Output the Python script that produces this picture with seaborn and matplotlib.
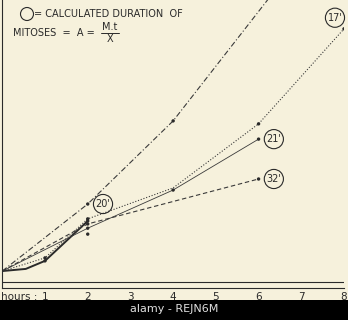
import matplotlib
matplotlib.use("Agg")
import matplotlib.pyplot as plt
from matplotlib.patches import Ellipse, Rectangle
from matplotlib.lines import Line2D
import seaborn as sns
import pandas as pd

# ---- data (hours, relative values) ----
obs_hours = [0, 0.55, 1, 2]
obs_vals = [0, 0.05, 0.24, 1.18]

dd_hours = [0, 2, 4, 8]          # dash-dot, 20'
dd_vals = [0, 1.58, 3.54, 8.7]

dot_hours = [0, 1, 2, 4, 6, 8]   # dotted, 17'
dot_vals = [0, 0.31, 1.23, 1.96, 3.47, 5.71]

sol_hours = [0, 2, 4, 6]         # thin solid, 21'
sol_vals = [0, 1.01, 1.91, 3.11]

dash_hours = [0, 2, 6]           # dashed, 32'
dash_vals = [0, 1.11, 2.17]

extra_hours = [2]                # isolated point at 2 h
extra_vals = [0.87]

x_ticks = [1, 2, 3, 4, 5, 6, 7, 8]
x_labels = ["1", "2", "3", "4", "5", "6", "7", "8"]
y_ticks = [1, 2, 3, 4, 5, 6]
labels = ["20'", "21'", "32'", "17'"]

BG = "#f6f1dc"
INK = "#2a2a2a"
LINE = "#3a3a3a"

sns.set_theme(style="white")
plt.rcParams["font.family"] = ["DejaVu Sans"]

W, H = 348, 320
fig = plt.figure(figsize=(W / 100, H / 100), dpi=100, facecolor=BG)
left_px, right_px, bottom_px, top_px = 2.3, 344, 288, 0
ax = fig.add_axes([left_px / W, (H - bottom_px) / H, (right_px - left_px) / W,
                   (bottom_px - top_px) / H])
ax.set_facecolor(BG)

def draw(h, v, ls, lw, mark_idx, col=LINE):
    df = pd.DataFrame({"h": h, "v": v})
    sns.lineplot(data=df, x="h", y="v", ax=ax, sort=False, color=col,
                 linestyle=ls, linewidth=lw, errorbar=None)
    pts = df.iloc[mark_idx]
    sns.scatterplot(data=pts, x="h", y="v", ax=ax, color=INK, s=6,
                    edgecolor="none", zorder=5)
    return df

draw(obs_hours, obs_vals, "-", 1.4, [2, 3], INK)
draw(dd_hours, dd_vals, (0, (5, 2, 1, 2)), 0.8, [1, 2])
draw(dot_hours, dot_vals, (0, (1, 1.6)), 0.8, [1, 2, 4, 5])
draw(sol_hours, sol_vals, "-", 0.6, [1, 2, 3])
draw(dash_hours, dash_vals, (0, (4, 2.5)), 0.8, [1, 2])
sns.scatterplot(x=extra_hours, y=extra_vals, ax=ax, color=INK, s=6,
                edgecolor="none", zorder=5)

circ = dict(boxstyle="circle,pad=0.22", fc="none", ec=INK, lw=0.8)
def tag(txt, x, y, dx, dy):
    ax.annotate(txt, (x, y), xytext=(dx, dy), textcoords="offset points",
                ha="center", va="center", fontsize=7, color=INK, bbox=circ)

tag(labels[0], dd_hours[1], dd_vals[1], 11, 0)
tag(labels[1], sol_hours[3], sol_vals[3], 11, 0)
tag(labels[2], dash_hours[2], dash_vals[2], 11, 0)
tag(labels[3], dot_hours[5], dot_vals[5], -6.5, 8)

ax.set_xlim(0, 8)
ax.set_ylim(-0.40, 6.39)
ax.axhline(-0.26, color=INK, lw=0.8)
ax.set_xticks(x_ticks)
ax.set_xticklabels(x_labels)
ax.set_yticks(y_ticks)
ax.set_yticklabels([])
ax.tick_params(axis="x", direction="in", length=4.3, width=0.8, color=INK,
               pad=3.2, labelsize=7.5, labelcolor=INK)
ax.tick_params(axis="y", direction="out", length=2, width=0.8, color=INK)
ax.set_xlabel("")
ax.set_ylabel("")
for s in ["top", "right"]:
    ax.spines[s].set_visible(False)
for s in ["left", "bottom"]:
    ax.spines[s].set_color(INK)
    ax.spines[s].set_linewidth(0.8)

def fx(px):
    return px / W
def fy(py):
    return (H - py) / H

fig.text(fx(1), fy(297), "hours :", fontsize=7.5, color=INK, va="center", ha="left")

# legend text
fig.add_artist(Ellipse((fx(27), fy(14)), 13 / W, 13 / H, transform=fig.transFigure,
                       fc="none", ec=INK, lw=0.8))
fig.text(fx(34), fy(14), "= CALCULATED DURATION  OF", fontsize=7, color=INK,
         va="center", ha="left")
fig.text(fx(13), fy(33), "MITOSES  =  A =", fontsize=7, color=INK,
         va="center", ha="left")
fig.text(fx(110), fy(27), "M.t", fontsize=7, color=INK, va="center", ha="center")
fig.add_artist(Line2D([fx(101), fx(119)], [fy(32.5), fy(32.5)],
                      transform=fig.transFigure, color=INK, lw=0.7))
fig.text(fx(110), fy(38.5), "X", fontsize=7, color=INK, va="center", ha="center")

# bottom strip
fig.add_artist(Rectangle((0, 0), 1, 20 / H, transform=fig.transFigure,
                         fc="black", ec="none"))
fig.text(0.5, fy(309.5), "alamy - REJN6M", fontsize=8, color="#e0e0e0",
         va="center", ha="center")

fig.savefig("out.png", dpi=100, facecolor=BG)
